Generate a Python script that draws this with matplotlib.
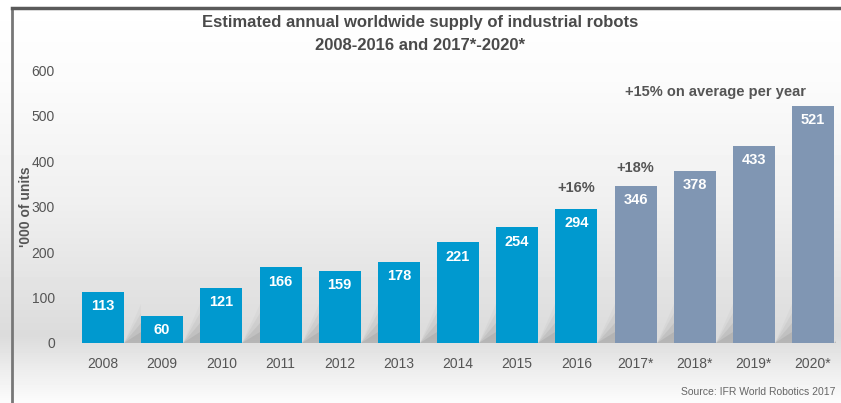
import numpy as np
import matplotlib.pyplot as plt
from matplotlib.lines import Line2D
from matplotlib.patches import Polygon

plt.rcParams['font.family'] = ['Liberation Sans', 'DejaVu Sans']

# Data
years = ['2008', '2009', '2010', '2011', '2012', '2013', '2014', '2015', '2016',
         '2017*', '2018*', '2019*', '2020*']
units = [113, 60, 121, 166, 159, 178, 221, 254, 294, 346, 378, 433, 521]
is_forecast = [False] * 9 + [True] * 4
yticks = [0, 100, 200, 300, 400, 500, 600]

blue = '#0099cf'
grey_blue = '#8096b3'
text_grey = '#555555'

W, H = 841, 403
fig = plt.figure(figsize=(W / 100, H / 100), dpi=100)

# background gradient, by pixel row from the top
bg = fig.add_axes([0, 0, 1, 1])
rows = np.arange(H)
shade = np.interp(rows, [0, 80, 200, 335, 370, 403], [1.0, 0.985, 0.94, 0.86, 0.93, 0.99])
grad = np.tile(shade[:, None], (1, 10))
bg.imshow(grad, cmap='gray', vmin=0, vmax=1, aspect='auto', extent=[0, 1, 0, 1],
          origin='upper')
bg.set_axis_off()

# frame lines
fig.add_artist(Line2D([12 / W, 12 / W], [0, 1 - 8 / H], color='#777777', lw=2))
fig.add_artist(Line2D([12 / W, 1], [1 - 8 / H, 1 - 8 / H], color='#5a5a5a', lw=2.5))

# main axes: x=0 -> 103px, x=12 -> 813px ; y=0 -> 343px, y=600 -> 70px
px_per = (813 - 103) / 12
L, R = 66, 836
ax = fig.add_axes([L / W, (H - 343) / H, (R - L) / W, (343 - 70) / H])
ax.set_xlim((L - 103) / px_per, (R - 103) / px_per)
ax.set_ylim(0, 600)
ax.patch.set_alpha(0)

x = np.arange(len(years))
bw = 42 / px_per
colors = [grey_blue if f else blue for f in is_forecast]

# soft shadows behind the bars
for i in range(len(x)):
    xr = x[i] + bw / 2
    xn = x[i] + 1 - bw / 2 if i < len(x) - 1 else x[i] + 0.85
    for k, a in enumerate([0.16, 0.12, 0.08, 0.05]):
        hgt = 25 + 20 * k
        ax.add_patch(Polygon([(xr, 0), (xn, 0), (xn, hgt)], closed=True,
                             facecolor='#707070', edgecolor='none', alpha=a, zorder=1))

bars = ax.bar(x, units, width=bw, color=colors, zorder=3)

for xi, v in zip(x, units):
    ax.text(xi, v - 31, str(v), ha='center', va='center', color='white',
            fontsize=10.5, fontweight='bold', zorder=4)

ax.text(x[8], 340, '+16%', ha='center', va='center', color=text_grey,
        fontsize=10.5, fontweight='bold')
ax.text(x[9], 384, '+18%', ha='center', va='center', color=text_grey,
        fontsize=10.5, fontweight='bold')
ax.text(10.36, 552, '+15% on average per year', ha='center', va='center',
        color=text_grey, fontsize=10.5, fontweight='bold')

ax.set_xticks(x)
ax.set_xticklabels(years)
ax.set_yticks(yticks)
ax.tick_params(axis='both', length=0, labelsize=10, labelcolor=text_grey)
ax.tick_params(axis='x', pad=10)
ax.tick_params(axis='y', pad=8)
for s in ax.spines.values():
    s.set_visible(False)

ax.set_ylabel("'000 of units", fontsize=10, fontweight='bold', color=text_grey)
ax.yaxis.set_label_coords((33 - L) / (R - L), 0.5)

fig.text(420 / W, 1 - 22 / H, 'Estimated annual worldwide supply of industrial robots',
         ha='center', va='center', fontsize=12, fontweight='bold', color='#4a4a4a')
fig.text(420 / W, 1 - 45 / H, '2008-2016 and 2017*-2020*',
         ha='center', va='center', fontsize=12, fontweight='bold', color='#4a4a4a')
fig.text(835 / W, 1 - 392 / H, 'Source: IFR World Robotics 2017', ha='right',
         va='center', fontsize=7.5, color='#666666')

fig.savefig('out.png', dpi=100)
